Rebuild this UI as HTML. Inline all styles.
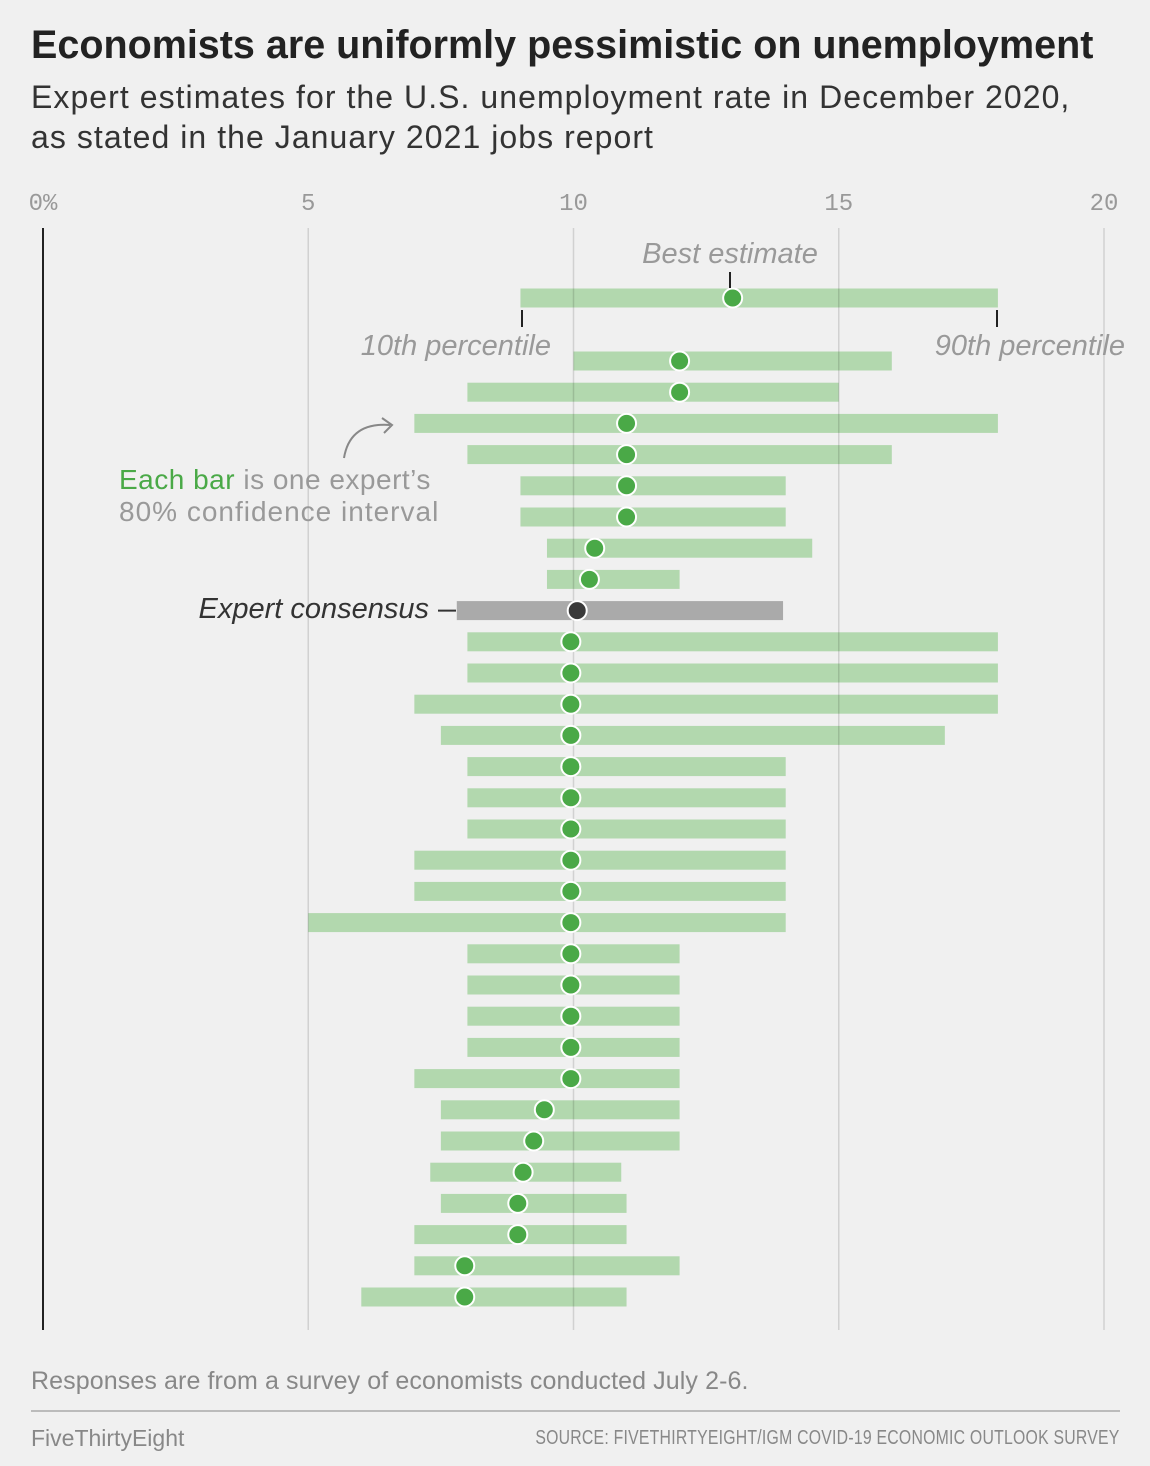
<!DOCTYPE html>
<html><head><meta charset="utf-8">
<style>
body{margin:0;background:#f0f0f0;}
#wrap{position:relative;width:1150px;height:1466px;background:#f0f0f0;font-family:"Liberation Sans",sans-serif;overflow:hidden}
.t{position:absolute;white-space:nowrap}
</style></head>
<body>
<div id="wrap">
<div class="t" style="left:31px;top:23px;font-size:39.5px;font-weight:bold;color:#222">Economists are uniformly pessimistic on unemployment</div>
<div class="t" style="left:31px;top:77px;font-size:32px;color:#333;line-height:40px;letter-spacing:1.05px">Expert estimates for the U.S. unemployment rate in December 2020,<br>as stated in the January 2021 jobs report</div>
<svg id="chart" width="1150" height="1466" style="position:absolute;left:0;top:0"></svg>
<div class="t" style="left:31px;top:1367px;font-size:25px;color:#888;letter-spacing:0.1px">Responses are from a survey of economists conducted July 2-6.</div>
<div style="position:absolute;left:31px;top:1410px;width:1089px;height:2px;background:#bbb"></div>
<div class="t" style="left:31px;top:1425px;font-size:23px;color:#888">FiveThirtyEight</div>
<div class="t" style="right:30px;top:1427px;font-size:20px;color:#888;letter-spacing:0.3px;transform:scaleX(0.79);transform-origin:right">SOURCE: FIVETHIRTYEIGHT/IGM COVID-19 ECONOMIC OUTLOOK SURVEY</div>
</div>
<script>
const ticks=[0,5,10,15,20];
const tickLabels=["0%","5","10","15","20"];
const lows= [9,10,8,7,8,9,9,9.5,9.5,8,8,7,7.5,8,8,8,7,7,5,8,8,8,8,7,7.5,7.5,7.3,7.5,7,7,6];
const highs=[18,16,15,18,16,14,14,14.5,12,18,18,18,17,14,14,14,14,14,14,12,12,12,12,12,12,12,10.9,11,11,12,11];
const best= [13,12,12,11,11,11,11,10.4,10.3,9.95,9.95,9.95,9.95,9.95,9.95,9.95,9.95,9.95,9.95,9.95,9.95,9.95,9.95,9.95,9.45,9.25,9.05,8.95,8.95,7.95,7.95];
const consensus=[7.8,13.95,10.07];
const svg=document.getElementById('chart');
const NS='http://www.w3.org/2000/svg';
const x=v=>43+v*53.05;
function rowY(i){ if(i===0) return 298; const k=i<=8?i-1:i; return 361+k*31.2; }
function mk(tag,attrs,parent){const e=document.createElementNS(NS,tag);for(const k in attrs)e.setAttribute(k,attrs[k]);(parent||svg).appendChild(e);return e;}
ticks.forEach((t,i)=>{
  const tx=mk('text',{x:x(t),y:210,'text-anchor':'middle','font-family':'Liberation Mono, monospace','font-size':24,fill:'#999'});
  tx.textContent=tickLabels[i];
  
  
});
lows.forEach((lo,i)=>{
  const r=mk('rect',{x:x(lo),y:rowY(i)-9.5,width:x(highs[i])-x(lo),height:19,fill:'#b2d8ae'});
  
  
});
const cr=mk('rect',{x:x(consensus[0]),y:610.6-9.5,width:x(consensus[1])-x(consensus[0]),height:19,fill:'#aaa'});


ticks.forEach(t=>{
  const l=mk('line',{x1:x(t),x2:x(t),y1:228,y2:1330,stroke:t===0?'#222':'rgba(0,0,0,0.13)','stroke-width':t===0?2:1.5});
  
  
});
best.forEach((b,i)=>{
  const c=mk('circle',{cx:x(b),cy:rowY(i),r:9.5,fill:'#4aa947',stroke:'#fff','stroke-width':2});
  
  
});
const cd=mk('circle',{cx:x(consensus[2]),cy:610.6,r:9.5,fill:'#3a3a3a',stroke:'#fff','stroke-width':2});


function txt(s,a,name,fill,italic){const e=mk('text',Object.assign({'font-family':'Liberation Sans, sans-serif','font-size':28,fill:fill||'#999','font-style':italic?'italic':'normal'},a));e.textContent=s;return e;}
txt('Best estimate',{x:730,y:263,'text-anchor':'middle','font-size':29},'best-estimate-label','#999',true);
mk('line',{x1:730,x2:730,y1:272,y2:288,stroke:'#222','stroke-width':2});
txt('10th percentile',{x:551,y:355,'text-anchor':'end','font-size':29},'tenth-percentile-label','#999',true);
mk('line',{x1:522,x2:522,y1:310,y2:327,stroke:'#222','stroke-width':2});
txt('90th percentile',{x:1125,y:355,'text-anchor':'end','font-size':29},'ninetieth-percentile-label','#999',true);
mk('line',{x1:997,x2:997,y1:310,y2:327,stroke:'#222','stroke-width':2});
mk('path',{d:'M344 458 Q350 422 390 425',fill:'none',stroke:'#888','stroke-width':2});
mk('path',{d:'M382 418 L392 425 L384 433',fill:'none',stroke:'#888','stroke-width':2});
const e1=txt('',{x:119,y:489,'letter-spacing':0.5},'each-bar-annotation');
const s1=document.createElementNS(NS,'tspan');s1.setAttribute('fill','#4aa947');s1.textContent='Each bar';e1.appendChild(s1);
const s2=document.createElementNS(NS,'tspan');s2.textContent=' is one expert’s';e1.appendChild(s2);
txt('80% confidence interval',{x:119,y:521,'letter-spacing':1},'confidence-annotation');
txt('Expert consensus',{x:429,y:618,'text-anchor':'end','font-size':29},'consensus-label','#333',true);
mk('line',{x1:438,x2:456,y1:610.6,y2:610.6,stroke:'#333','stroke-width':2});
</script>
</body></html>
